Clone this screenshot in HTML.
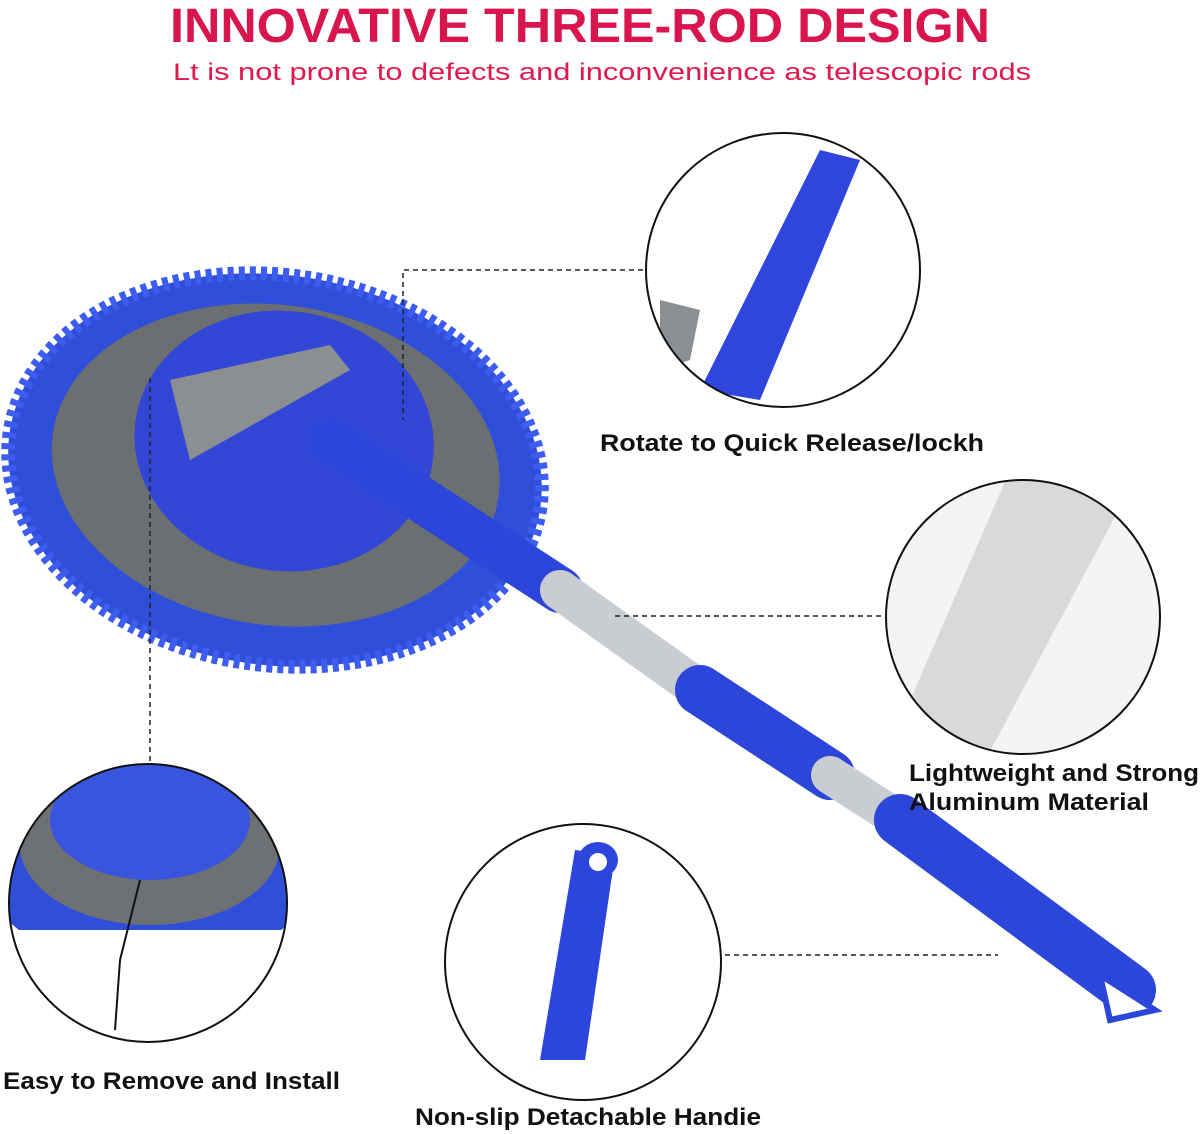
<!DOCTYPE html>
<html><head><meta charset="utf-8"><style>
html,body{margin:0;padding:0;background:#fff;}
svg{display:block;}
text{font-family:"Liberation Sans",sans-serif;}
</style></head><body>
<svg width="1200" height="1134" viewBox="0 0 1200 1134" xmlns="http://www.w3.org/2000/svg">
<text x="580" y="42" text-anchor="middle" font-size="48" font-weight="bold" fill="#d8154c" textLength="820" lengthAdjust="spacingAndGlyphs">INNOVATIVE THREE-ROD DESIGN</text>
<text x="602" y="80" text-anchor="middle" font-size="24" fill="#e0184e" textLength="858" lengthAdjust="spacingAndGlyphs">Lt is not prone to defects and inconvenience as telescopic rods</text>

<!-- mop head -->
<g transform="rotate(8 275 470)">
<ellipse cx="275" cy="470" rx="268" ry="195" fill="#2f4fd8" stroke="#3d5cf0" stroke-width="14" stroke-dasharray="6 5"/>
<ellipse cx="275" cy="465" rx="225" ry="160" fill="#6b6f72"/>
<ellipse cx="280" cy="440" rx="150" ry="130" fill="#3247d6"/>
</g>
<path d="M170 380 L330 345 L350 370 L190 460 Z" fill="#8c8f92"/>

<!-- pole -->
<g stroke-linecap="round">
<line x1="330" y1="440" x2="560" y2="590" stroke="#2b46d8" stroke-width="46"/>
<line x1="560" y1="590" x2="700" y2="690" stroke="#c9ccd0" stroke-width="40"/>
<line x1="700" y1="690" x2="830" y2="775" stroke="#2b46d8" stroke-width="50"/>
<line x1="830" y1="775" x2="900" y2="820" stroke="#c9ccd0" stroke-width="38"/>
<line x1="900" y1="820" x2="1130" y2="990" stroke="#2b46d8" stroke-width="52"/>
</g>
<path d="M1100 975 L1155 1010 L1110 1020 Z" fill="#fff" stroke="#2b46d8" stroke-width="6"/>

<!-- dashed connectors -->
<g stroke="#222" stroke-width="1.5" stroke-dasharray="5 4" fill="none">
<polyline points="643,270 403,270 403,420"/>
<line x1="615" y1="616" x2="885" y2="616"/>
<polyline points="150,378 150,765"/>
<line x1="725" y1="955" x2="998" y2="955"/>
</g>

<!-- detail circles -->
<defs>
<clipPath id="c1"><circle cx="783" cy="270" r="137"/></clipPath>
<clipPath id="c2"><circle cx="1023" cy="617" r="137"/></clipPath>
<clipPath id="c3"><circle cx="148" cy="903" r="139"/></clipPath>
<clipPath id="c4"><circle cx="583" cy="962" r="138"/></clipPath>
</defs>
<g clip-path="url(#c1)">
<path d="M820 150 L860 160 L760 400 L700 390 Z" fill="#2f45de"/>
<path d="M660 300 L700 310 L690 360 L660 370 Z" fill="#8d9093"/>
</g>
<circle cx="783" cy="270" r="137" fill="none" stroke="#111" stroke-width="2"/>
<g clip-path="url(#c2)">
<rect x="880" y="470" width="300" height="300" fill="#f4f4f4"/>
<path d="M1010 470 L1140 470 L980 770 L880 770 Z" fill="#d8d9db"/>
</g>
<circle cx="1023" cy="617" r="137" fill="none" stroke="#111" stroke-width="2"/>
<g clip-path="url(#c3)">
<ellipse cx="150" cy="860" rx="170" ry="110" fill="#2f4fd8"/>
<ellipse cx="150" cy="845" rx="130" ry="80" fill="#6e7173"/>
<ellipse cx="150" cy="820" rx="100" ry="60" fill="#3a55dd"/>
<rect x="0" y="930" width="300" height="120" fill="#fff"/>
<path d="M140 880 L120 960 L115 1030" stroke="#111" stroke-width="2" fill="none"/>
</g>
<circle cx="148" cy="903" r="139" fill="none" stroke="#111" stroke-width="2"/>
<g clip-path="url(#c4)">
<path d="M575 850 L615 855 L585 1060 L540 1060 Z" fill="#2c45dc"/>
<ellipse cx="598" cy="860" rx="20" ry="18" fill="#2c45dc"/>
<ellipse cx="598" cy="862" rx="9" ry="9" fill="#fff"/>
</g>
<circle cx="583" cy="962" r="138" fill="none" stroke="#111" stroke-width="2"/>

<!-- labels -->
<g font-size="24" fill="#111" font-weight="bold">
<text x="600" y="451" textLength="384" lengthAdjust="spacingAndGlyphs">Rotate to Quick Release/lockh</text>
<text x="909" y="781" textLength="290" lengthAdjust="spacingAndGlyphs">Lightweight and Strong</text>
<text x="909" y="810" textLength="240" lengthAdjust="spacingAndGlyphs">Aluminum Material</text>
<text x="3" y="1089" textLength="337" lengthAdjust="spacingAndGlyphs">Easy to Remove and Install</text>
<text x="415" y="1125" textLength="346" lengthAdjust="spacingAndGlyphs">Non-slip Detachable Handie</text>
</g>
</svg>
</body></html>
